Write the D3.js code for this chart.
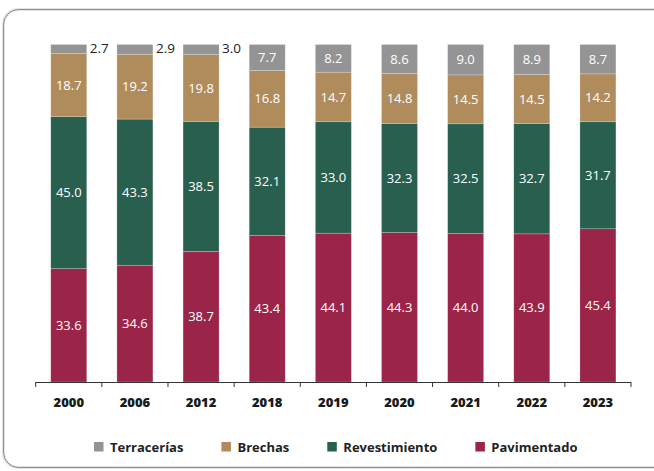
<!DOCTYPE html>
<html>
<head>
<meta charset="utf-8">
<script src="https://cdn.jsdelivr.net/npm/d3@7"></script>
<style>
  body { margin: 0; background: #fff; }
  svg { font-family: "Open Sans", sans-serif; }
</style>
</head>
<body>
<svg id="chart"></svg>
<script>
"use strict";

const width = 654;
const height = 471;

const years = ["2000", "2006", "2012", "2018", "2019", "2020", "2021", "2022", "2023"];
const pavimentado = [33.6, 34.6, 38.7, 43.4, 44.1, 44.3, 44.0, 43.9, 45.4];
const revestimiento = [45.0, 43.3, 38.5, 32.1, 33.0, 32.3, 32.5, 32.7, 31.7];
const brechas = [18.7, 19.2, 19.8, 16.8, 14.7, 14.8, 14.5, 14.5, 14.2];
const terracerias = [2.7, 2.9, 3.0, 7.7, 8.2, 8.6, 9.0, 8.9, 8.7];

const series_names = ["Pavimentado", "Revestimiento", "Brechas", "Terracerías"];
const series_colors = ["#9b2449", "#285f4f", "#b08c5d", "#949494"];
const legend_order = ["Terracerías", "Brechas", "Revestimiento", "Pavimentado"];

const rows = years.map((y, i) => ({
    year: y,
    "Pavimentado": pavimentado[i],
    "Revestimiento": revestimiento[i],
    "Brechas": brechas[i],
    "Terracerías": terracerias[i]
}));

const svg = d3.select("#chart")
    .attr("width", width)
    .attr("height", height);

// frame
svg.append("rect")
    .attr("x", 3.5)
    .attr("y", 9.5)
    .attr("width", 680)
    .attr("height", 458)
    .attr("rx", 15)
    .attr("fill", "none")
    .attr("stroke", "#e4e4e4")
    .attr("stroke-width", 3);
svg.append("rect")
    .attr("x", 3.5)
    .attr("y", 9.5)
    .attr("width", 680)
    .attr("height", 458)
    .attr("rx", 15)
    .attr("fill", "none")
    .attr("stroke", "#8f8f8f")
    .attr("stroke-width", 1);

const x = d3.scaleBand()
    .domain(years)
    .range([35.7, 631])
    .paddingInner(0.456)
    .paddingOuter(0.228);

const y = d3.scaleLinear()
    .domain([0, 100])
    .range([382, 44.5]);

const color = d3.scaleOrdinal()
    .domain(series_names)
    .range(series_colors);

const stacked = d3.stack().keys(series_names)(rows);

const layers = svg.append("g")
    .selectAll("g")
    .data(stacked)
    .enter()
    .append("g")
    .attr("fill", d => color(d.key));

layers.selectAll("rect")
    .data(d => d)
    .enter()
    .append("rect")
    .attr("x", d => x(d.data.year))
    .attr("y", d => y(d[1]))
    .attr("width", x.bandwidth())
    .attr("height", d => y(d[0]) - y(d[1]))
    .attr("stroke", "rgba(255,255,255,0.35)")
    .attr("stroke-width", 0.6);

// value labels, small ones go outside the bar
layers.selectAll("text")
    .data(d => d.map(v => ({ v: v, key: d.key })))
    .enter()
    .append("text")
    .attr("x", d => {
        const val = d.v[1] - d.v[0];
        return val < 5
            ? x(d.v.data.year) + x.bandwidth() + 3
            : x(d.v.data.year) + x.bandwidth() / 2;
    })
    .attr("y", d => {
        const val = d.v[1] - d.v[0];
        return val < 5 ? y(d.v[1]) + 4 : (y(d.v[0]) + y(d.v[1])) / 2;
    })
    .attr("dy", "0.35em")
    .attr("text-anchor", d => (d.v[1] - d.v[0]) < 5 ? "start" : "middle")
    .attr("fill", d => (d.v[1] - d.v[0]) < 5 ? "#222" : "#fff")
    .attr("font-size", d => (d.v[1] - d.v[0]) < 5 ? 13.5 : 13)
    .text(d => (d.v[1] - d.v[0]).toFixed(1));

// axis
const step = x.step();
const boundaries = years.map(yr => x(yr) - (step - x.bandwidth()) / 2)
    .concat([x(years[years.length - 1]) + x.bandwidth() + (step - x.bandwidth()) / 2]);

const axis = svg.append("g");
axis.append("line")
    .attr("x1", boundaries[0])
    .attr("x2", boundaries[boundaries.length - 1])
    .attr("y1", 382.5)
    .attr("y2", 382.5)
    .attr("stroke", "#333")
    .attr("stroke-width", 1);
axis.selectAll(".tick")
    .data(boundaries)
    .enter()
    .append("line")
    .attr("x1", d => d)
    .attr("x2", d => d)
    .attr("y1", 382)
    .attr("y2", 387)
    .attr("stroke", "#333");

axis.selectAll(".lbl")
    .data(years)
    .enter()
    .append("text")
    .attr("x", d => x(d) + x.bandwidth() / 2)
    .attr("y", 402)
    .attr("dy", "0.35em")
    .attr("text-anchor", "middle")
    .attr("font-size", 13)
    .attr("font-weight", 800)
    .attr("fill", "#1a1a1a")
    .text(d => d);

// legend
const legend = svg.append("g");
let lx = 94;
legend_order.forEach(name => {
    legend.append("rect")
        .attr("x", lx)
        .attr("y", 442)
        .attr("width", 9.5)
        .attr("height", 9.5)
        .attr("fill", color(name));
    const t = legend.append("text")
        .attr("x", lx + 16)
        .attr("y", 447)
        .attr("dy", "0.35em")
        .attr("font-size", 13)
        .attr("font-weight", 700)
        .attr("fill", "#222")
        .text(name);
    lx = lx + 16 + t.node().getComputedTextLength() + 38;
});
</script>
</body>
</html>
